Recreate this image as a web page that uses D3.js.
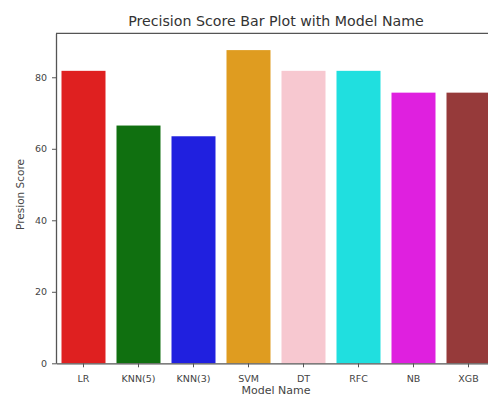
<!DOCTYPE html>
<html>
<head>
<meta charset="utf-8">
<script src="https://cdn.jsdelivr.net/npm/d3@7"></script>
<style>
  html, body { margin: 0; padding: 0; background: #fff; overflow: hidden; }
  svg { display: block; font-family: "DejaVu Sans", sans-serif; }
</style>
</head>
<body>
<svg id="chart" width="488" height="397"></svg>
<script>
const models = ["LR", "KNN(5)", "KNN(3)", "SVM", "DT", "RFC", "NB", "XGB"];
const precision = [81.8, 66.5, 63.5, 87.6, 81.8, 81.8, 75.7, 75.7];
const barColors = ["#df2020", "#107010", "#2020df", "#df9c20", "#f7c8d0", "#20dfdf", "#df20df", "#963a3a"];
const yTicks = [0, 20, 40, 60, 80];
const titleText = "Precision Score Bar Plot with Model Name";
const xLabel = "Model Name";
const yLabel = "Presion Score";

const svg = d3.select("#chart");
const mLeft = 56, mRight = 496, mTop = 33.3, mBottom = 363.3;

const x = d3.scaleBand().domain(models).range([mLeft, mRight]).paddingInner(0.2).paddingOuter(0.1);
const y = d3.scaleLinear().domain([0, 92.3]).range([mBottom, mTop]);

svg.append("g").selectAll("rect").data(models).join("rect")
  .attr("x", d => x(d))
  .attr("width", x.bandwidth())
  .attr("y", (d, i) => y(precision[i]))
  .attr("height", (d, i) => y(0) - y(precision[i]))
  .attr("fill", (d, i) => barColors[i]);

const axisColor = "#555";
const xAxis = svg.append("g").attr("transform", `translate(0,${mBottom})`)
  .call(d3.axisBottom(x).tickSize(4).tickPadding(8).tickSizeOuter(0));
const yAxis = svg.append("g").attr("transform", `translate(${mLeft},0)`)
  .call(d3.axisLeft(y).tickValues(yTicks).tickSize(4).tickPadding(5).tickSizeOuter(0));
[xAxis, yAxis].forEach(a => {
  a.select(".domain").attr("stroke", axisColor).attr("stroke-width", 1.3);
  a.selectAll(".tick line").attr("stroke", axisColor);
  a.selectAll(".tick text").attr("fill", "#444").attr("font-size", "9.5px").attr("font-family", "DejaVu Sans, sans-serif");
});

svg.append("line").attr("x1", mLeft).attr("x2", mRight).attr("y1", mTop).attr("y2", mTop)
  .attr("stroke", axisColor).attr("stroke-width", 1.3);
svg.append("line").attr("x1", mRight).attr("x2", mRight).attr("y1", mTop).attr("y2", mBottom)
  .attr("stroke", axisColor).attr("stroke-width", 1.3);

svg.append("text").attr("x", (mLeft + mRight) / 2).attr("y", 25.5)
  .attr("text-anchor", "middle").attr("font-size", "14.2px").attr("fill", "#333").text(titleText);

svg.append("text").attr("x", (mLeft + mRight) / 2).attr("y", 393.5)
  .attr("text-anchor", "middle").attr("font-size", "11px").attr("fill", "#444").text(xLabel);

svg.append("text").attr("transform", `translate(23.5,194.5) rotate(-90)`)
  .attr("text-anchor", "middle").attr("font-size", "10.5px").attr("fill", "#444").text(yLabel);
</script>
</body>
</html>
